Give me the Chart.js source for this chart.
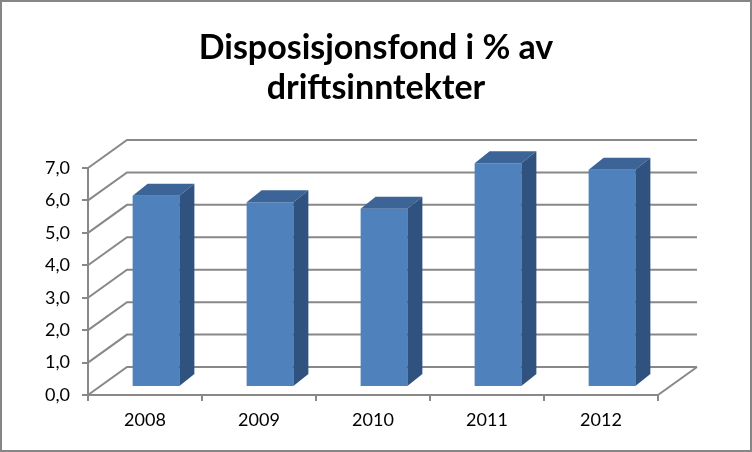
<!DOCTYPE html>
<html lang="no">
<head>
    <meta charset="utf-8" />
    <title>Disposisjonsfond i % av driftsinntekter</title>
    <script src="https://cdn.jsdelivr.net/npm/chart.js@4/dist/chart.umd.min.js"></script>
    <style>
        body { margin: 0; background: #fff; }
        #wrap { width: 752px; height: 452px; }
    </style>
</head>
<body>
    <div id="wrap"><canvas id="fondChart" width="752" height="452"></canvas></div>
    <script type="text/javascript">
        // data
        const years = ['2008', '2009', '2010', '2011', '2012'];
        const fondPercent = [5.9, 5.7, 5.5, 6.9, 6.7];
        const titleLines = ['Disposisjonsfond i % av', 'driftsinntekter'];

        const gridColor = '#888888';
        const frontColor = '#4f81bd';
        const topColor = '#3c6497';
        const sideColor = '#30527f';
        // 3D look: wall depth and bar depth offsets (px)
        const wallDx = 39, wallDy = -28;
        const barDx = 11, barDy = -8;
        const sideDx = 15, sideDy = -12;

        function fmt(v) {
            return v.toFixed(1).replace('.', ',');
        }

        const fakeThreeD = {
            id: 'fakeThreeD',
            beforeDraw(chart) {
                const ctx = chart.ctx;
                const area = chart.chartArea;
                const yScale = chart.scales.y;
                ctx.save();
                ctx.fillStyle = '#fff';
                ctx.fillRect(0, 0, chart.width, chart.height);
                ctx.strokeStyle = '#868686';
                ctx.lineWidth = 2;
                ctx.strokeRect(1, 1, chart.width - 2, chart.height - 2);

                // title
                ctx.fillStyle = '#000';
                ctx.font = 'bold 34px Lato';
                ctx.textAlign = 'center';
                ctx.textBaseline = 'alphabetic';
                ctx.fillText(titleLines[0], chart.width / 2, 59);
                ctx.fillText(titleLines[1], chart.width / 2, 99);

                // side wall + back wall gridlines
                ctx.strokeStyle = gridColor;
                ctx.lineWidth = 2;
                yScale.ticks.forEach(t => {
                    const py = yScale.getPixelForValue(t.value);
                    ctx.beginPath();
                    ctx.moveTo(area.left, py);
                    ctx.lineTo(area.left + wallDx, py + wallDy);
                    ctx.lineTo(area.right + wallDx, py + wallDy);
                    ctx.stroke();
                });
                // floor right edge
                ctx.beginPath();
                ctx.moveTo(area.right, area.bottom);
                ctx.lineTo(area.right + wallDx, area.bottom + wallDy);
                ctx.stroke();
                ctx.restore();
            },
            beforeDatasetsDraw(chart) {
                chart.ctx.save();
                chart.ctx.translate(barDx, barDy);
            },
            afterDatasetsDraw(chart) {
                const ctx = chart.ctx;
                chart.getDatasetMeta(0).data.forEach(bar => {
                    const l = bar.x - bar.width / 2;
                    const r = bar.x + bar.width / 2;
                    ctx.fillStyle = topColor;
                    ctx.beginPath();
                    ctx.moveTo(l, bar.y);
                    ctx.lineTo(l + sideDx, bar.y + sideDy);
                    ctx.lineTo(r + sideDx, bar.y + sideDy);
                    ctx.lineTo(r, bar.y);
                    ctx.closePath();
                    ctx.fill();
                    ctx.fillStyle = sideColor;
                    ctx.beginPath();
                    ctx.moveTo(r, bar.y);
                    ctx.lineTo(r + sideDx, bar.y + sideDy);
                    ctx.lineTo(r + sideDx, bar.base + sideDy);
                    ctx.lineTo(r, bar.base);
                    ctx.closePath();
                    ctx.fill();
                });
                ctx.restore();
            }
        };

        Chart.defaults.font.family = 'Lato';
        Chart.defaults.color = '#000';

        new Chart(document.getElementById('fondChart'), {
            type: 'bar',
            data: {
                labels: years,
                datasets: [{
                    data: fondPercent,
                    backgroundColor: frontColor,
                    borderWidth: 0,
                    categoryPercentage: 1,
                    barPercentage: 0.41,
                    clip: false
                }]
            },
            options: {
                responsive: false,
                animation: false,
                events: [],
                layout: { padding: { top: 168, right: 94, left: 0, bottom: 0 } },
                plugins: { legend: { display: false }, tooltip: { enabled: false } },
                scales: {
                    x: {
                        afterFit(scale) { scale.height = 57; },
                        grid: { drawOnChartArea: false, color: gridColor, lineWidth: 2, tickLength: 6 },
                        border: { color: gridColor, width: 2 },
                        ticks: { font: { size: 18 }, padding: 8 }
                    },
                    y: {
                        min: 0,
                        max: 7,
                        afterFit(scale) { scale.width = 88; },
                        grid: { drawOnChartArea: false, color: gridColor, lineWidth: 2, tickLength: 6 },
                        border: { color: gridColor, width: 2 },
                        ticks: { stepSize: 1, font: { size: 18 }, padding: 12, callback: v => fmt(v) }
                    }
                }
            },
            plugins: [fakeThreeD]
        });
    </script>
</body>
</html>
